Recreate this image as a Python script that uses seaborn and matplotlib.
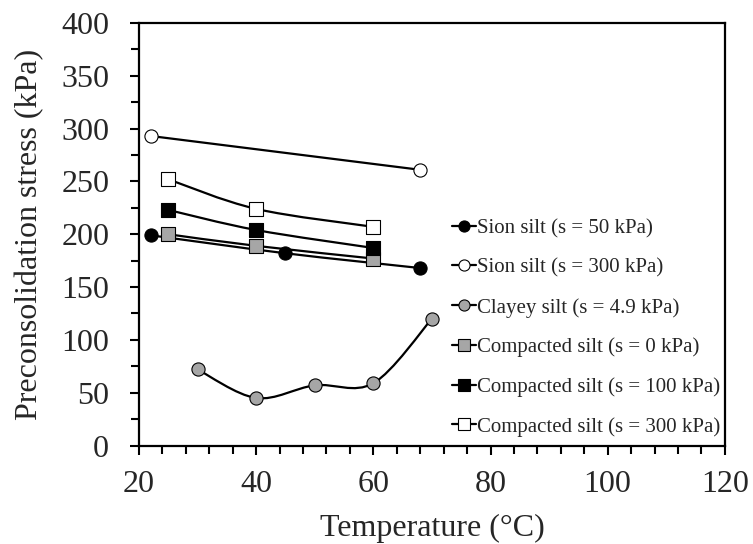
import matplotlib
matplotlib.use("Agg")
import matplotlib.pyplot as plt
import seaborn as sns
import pandas as pd
from matplotlib.path import Path
from matplotlib.patches import PathPatch
from matplotlib.lines import Line2D
from matplotlib.ticker import MultipleLocator

# data
t_sion50 = [22, 45, 68]
p_sion50 = [199, 182, 168]
t_sion300 = [22, 68]
p_sion300 = [293, 261]
t_clayey = [30, 40, 50, 60, 70]
p_clayey = [72, 45, 57, 59, 120]
t_comp = [25, 40, 60]
p_comp0 = [200, 189, 177]
p_comp100 = [223, 204, 187]
p_comp300 = [252, 224, 207]

labels = ["Sion silt (s = 50 kPa)", "Sion silt (s = 300 kPa)",
          "Clayey silt (s = 4.9 kPa)", "Compacted silt (s = 0 kPa)",
          "Compacted silt (s = 100 kPa)", "Compacted silt (s = 300 kPa)"]
series = [(t_sion50, p_sion50), (t_sion300, p_sion300), (t_clayey, p_clayey),
          (t_comp, p_comp0), (t_comp, p_comp100), (t_comp, p_comp300)]
markers = ["o", "o", "o", "s", "s", "s"]
fills = ["black", "white", "#a6a6a6", "#a6a6a6", "black", "white"]


def smooth_path(xs, ys):
    # Excel style smoothed line as cubic bezier segments
    pts = list(zip(xs, ys))
    verts = [pts[0]]
    codes = [Path.MOVETO]
    n = len(pts)
    for i in range(n - 1):
        p0 = pts[i - 1] if i > 0 else pts[i]
        p1 = pts[i]
        p2 = pts[i + 1]
        p3 = pts[i + 2] if i + 2 < n else pts[i + 1]
        c1 = (p1[0] + (p2[0] - p0[0]) / 6, p1[1] + (p2[1] - p0[1]) / 6)
        c2 = (p2[0] - (p3[0] - p1[0]) / 6, p2[1] - (p3[1] - p1[1]) / 6)
        verts += [c1, c2, p2]
        codes += [Path.CURVE4] * 3
    return Path(verts, codes)


sns.set_theme(style="ticks")
plt.rcParams["font.family"] = ["Liberation Serif", "DejaVu Serif"]

fig = plt.figure(figsize=(7.53, 5.44), dpi=100)
ax = fig.add_axes([0.1846, 0.181, 0.778, 0.7768])

handles = []
for (xs, ys), lab, m, fc in zip(series, labels, markers, fills):
    ax.add_patch(PathPatch(smooth_path(xs, ys), facecolor="none",
                           edgecolor="black", lw=1.6, zorder=2))
    df = pd.DataFrame({"T": xs, "p": ys})
    ms = 90 if m == "o" else 100
    sns.scatterplot(data=df, x="T", y="p", marker=m, s=ms, color=fc,
                    edgecolor="black", linewidth=0.8, ax=ax, zorder=3)
    handles.append(Line2D([], [], color="black", lw=1.6, marker=m,
                          markerfacecolor=fc, markeredgecolor="black",
                          markeredgewidth=0.8, markersize=8 if m == "o" else 8.5))

ax.set_xlim(20, 120)
ax.set_ylim(0, 400)
ax.xaxis.set_major_locator(MultipleLocator(20))
ax.xaxis.set_minor_locator(MultipleLocator(4))
ax.yaxis.set_major_locator(MultipleLocator(50))
ax.yaxis.set_minor_locator(MultipleLocator(25))
ax.tick_params(which="both", direction="out", width=1.5, color="black",
               labelsize=23)
ax.tick_params(axis="y", which="both", pad=15)
ax.tick_params(axis="x", which="both", pad=11)
ax.tick_params(which="major", length=6.5)
ax.tick_params(which="minor", length=5.5)
for sp in ax.spines.values():
    sp.set_visible(True)
    sp.set_linewidth(1.6)
    sp.set_color("black")

ax.set_xlabel("Temperature (°C)", fontsize=23, labelpad=11)
ax.set_ylabel("Preconsolidation stress (kPa)", fontsize=23, labelpad=12)

ax.legend(handles, labels, loc="upper left", bbox_to_anchor=(0.534, 0.537),
          frameon=False, fontsize=15, handlelength=1.15, handletextpad=0.05,
          labelspacing=0.96, borderpad=0, borderaxespad=0)

fig.savefig("out.png", dpi=100)
